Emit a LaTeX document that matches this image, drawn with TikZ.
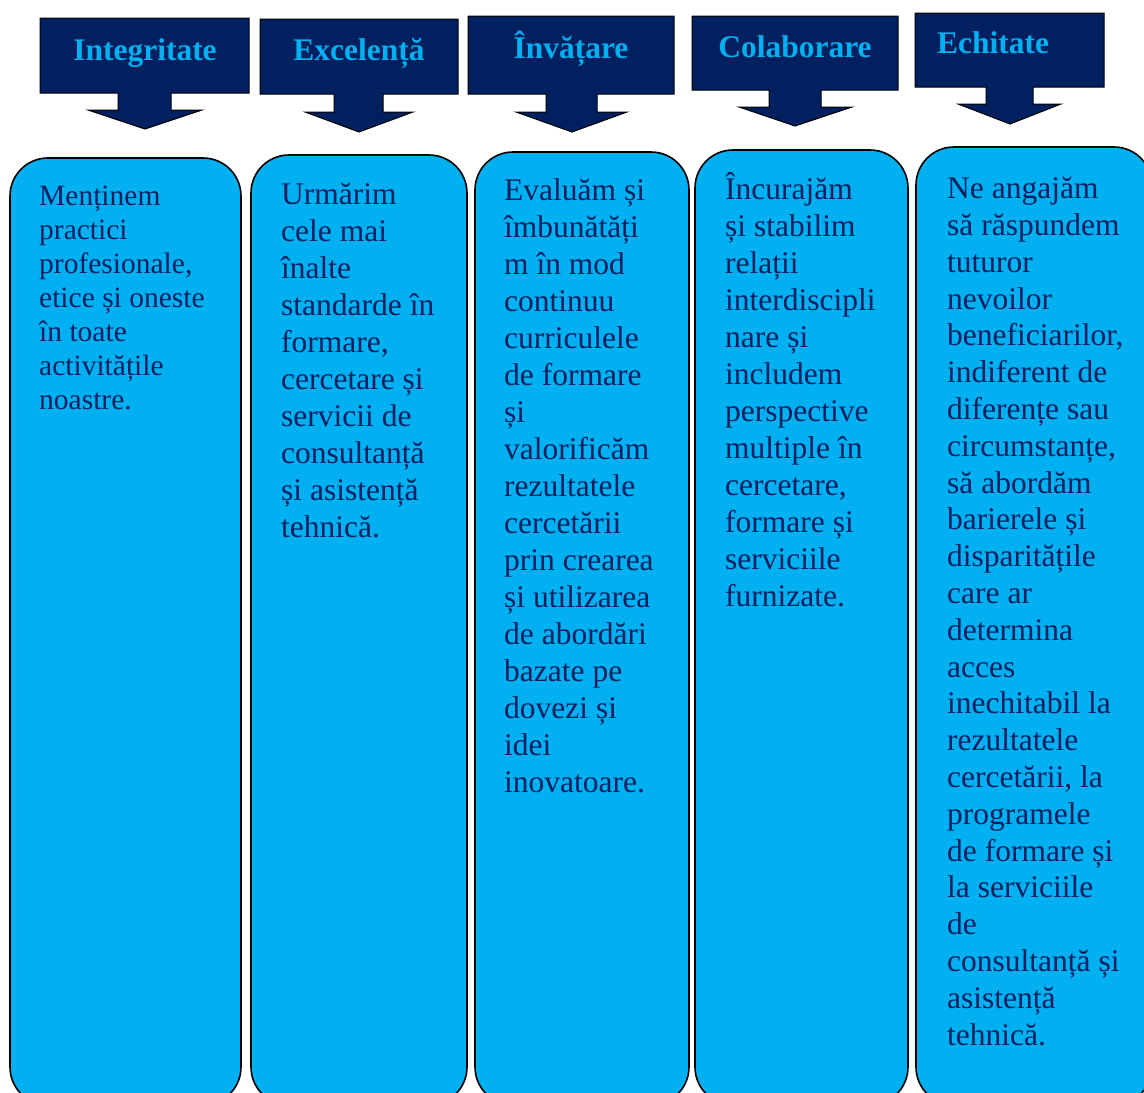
\documentclass[tikz,border=0pt]{standalone}
\usepackage{fontspec}
\setmainfont{Liberation Serif}

\definecolor{navy}{HTML}{002060}
\definecolor{sky}{HTML}{00B0F0}

\tikzset{
  headshape/.style={fill=navy, draw=black, line width=1pt},
  headtext/.style={text=sky, font=\fontsize{31.5}{36}\selectfont\bfseries, inner sep=0pt, anchor=base},
  valbox/.style={fill=sky, draw=black, line width=1.6pt, rounded corners=38pt},
  valtext/.style={text=navy, align=left, inner sep=0pt, anchor=base west, font=\fontsize{31.5}{37}\selectfont},
}

\begin{document}
\begin{tikzpicture}[x=1pt, y=-1pt]
\useasboundingbox (0,0) rectangle (1144,1093);
\clip (0,0) rectangle (1144,1093);

\draw[headshape] (40,18) -- (249,18) -- (249,93) -- (171,93) -- (171,110) -- (202,110) -- (145,129) -- (88,110) -- (118,110) -- (118,93) -- (40,93) -- cycle;
\node[headtext] (hint) at (145,60) {Integritate};

\draw[headshape] (260,19) -- (458,19) -- (458,94) -- (383,94) -- (383,112) -- (413,112) -- (359,132) -- (305,112) -- (334,112) -- (334,94) -- (260,94) -- cycle;
\node[headtext] (hexc) at (359,60) {Excelență};

\draw[headshape] (468,16) -- (674,16) -- (674,94) -- (597,94) -- (597,112) -- (627,112) -- (572,132) -- (516,112) -- (546,112) -- (546,94) -- (468,94) -- cycle;
\node[headtext] (hinv) at (571,58) {Învățare};

\draw[headshape] (692,16) -- (898,16) -- (898,90) -- (821,90) -- (821,107) -- (852,107) -- (795,126) -- (739,107) -- (769,107) -- (769,90) -- (692,90) -- cycle;
\node[headtext] (hcol) at (795,57) {Colaborare};

\draw[headshape] (915,13) -- (1104,13) -- (1104,87) -- (1033,87) -- (1033,104) -- (1061,104) -- (1010,124) -- (958,104) -- (986,104) -- (986,87) -- (915,87) -- cycle;
\node[headtext, anchor=base west] (hech) at (937,53) {Echitate};

% value boxes, cut off at the bottom
\draw[valbox] (10,158) rectangle (241,1105);
\draw[valbox] (251,155) rectangle (467,1105);
\draw[valbox] (475,152) rectangle (689,1105);
\draw[valbox] (695,150) rectangle (908,1105);
\draw[valbox] (916,147) rectangle (1152,1105);

% texts placed by the baseline of their last line
\node[valtext, font=\fontsize{29.5}{34}\selectfont] (tint) at (39,409) {Menținem\\practici\\profesionale,\\etice și oneste\\în toate\\activitățile\\noastre.};

\node[valtext] (texc) at (281,537) {Urmărim\\cele mai\\înalte\\standarde în\\formare,\\cercetare și\\servicii de\\consultanță\\și asistență\\tehnică.};

\node[valtext] (tinv) at (504,792) {Evaluăm și\\îmbunătăți\\m în mod\\continuu\\curriculele\\de formare\\și\\valorificăm\\rezultatele\\cercetării\\prin crearea\\și utilizarea\\de abordări\\bazate pe\\dovezi și\\idei\\inovatoare.};

\node[valtext] (tcol) at (725,606) {Încurajăm\\și stabilim\\relații\\interdiscipli\\nare și\\includem\\perspective\\multiple în\\cercetare,\\formare și\\serviciile\\furnizate.};

\node[valtext, font=\fontsize{31.5}{36.8}\selectfont] (tech) at (947,1045) {Ne angajăm\\să răspundem\\tuturor\\nevoilor\\beneficiarilor,\\indiferent de\\diferențe sau\\circumstanțe,\\să abordăm\\barierele și\\disparitățile\\care ar\\determina\\acces\\inechitabil la\\rezultatele\\cercetării, la\\programele\\de formare și\\la serviciile\\de\\consultanță și\\asistență\\tehnică.};
\end{tikzpicture}
\end{document}
